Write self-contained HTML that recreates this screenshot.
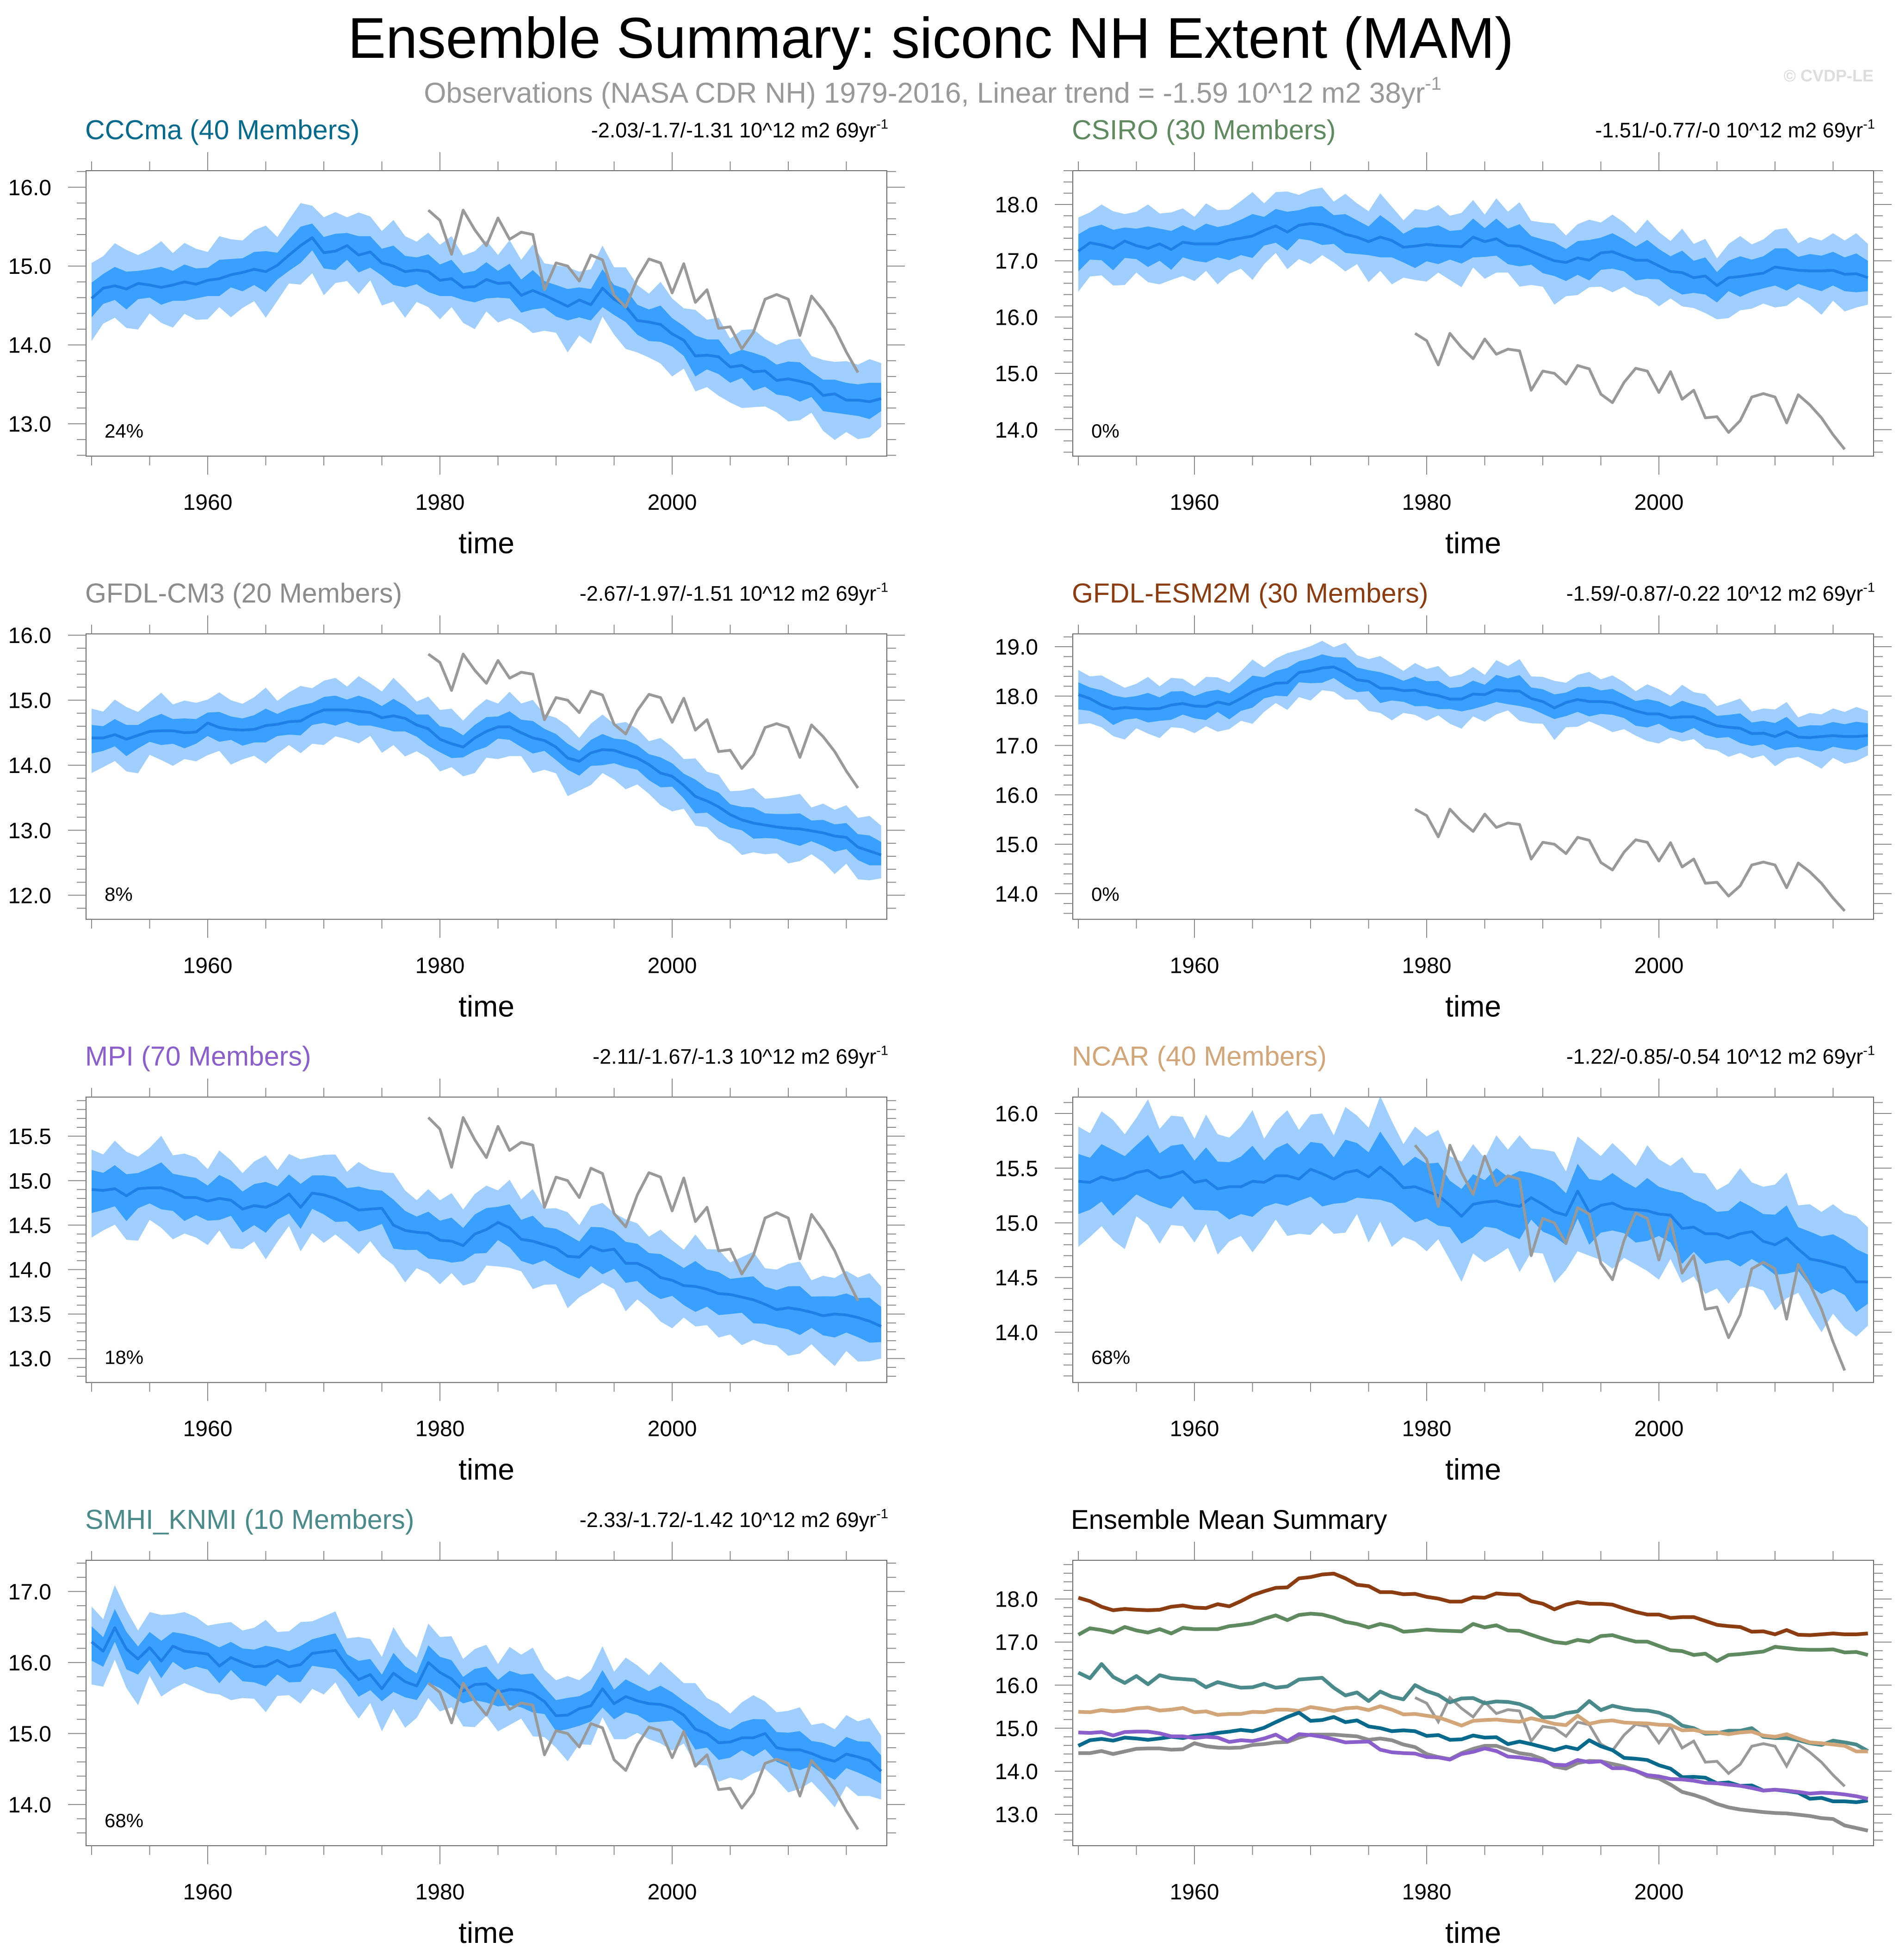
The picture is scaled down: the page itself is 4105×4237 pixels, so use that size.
<!DOCTYPE html>
<html><head><meta charset="utf-8"><title>Ensemble Summary</title>
<style>html,body{margin:0;padding:0;background:#fff}svg{display:block}</style></head>
<body>
<svg id="fig" xmlns="http://www.w3.org/2000/svg" width="4105" height="4237" viewBox="0 0 4105 4237" font-family="Liberation Sans, sans-serif">
<text x="2012" y="125" font-size="124" text-anchor="middle" textLength="2520" lengthAdjust="spacingAndGlyphs">Ensemble Summary: siconc NH Extent (MAM)</text>
<text x="2016" y="222" font-size="62" fill="#999" text-anchor="middle">Observations (NASA CDR NH) 1979-2016, Linear trend = -1.59 10^12 m2 38yr<tspan font-size="40" dy="-28">-1</tspan></text>
<text x="4050" y="176" font-size="36" font-weight="bold" fill="#ddd" text-anchor="end">© CVDP-LE</text>
<g id="panels"></g>
</svg>
<script>
const years = []; for (let y = 1950; y <= 2018; y++) years.push(y);
const obsYears = []; for (let y = 1979; y <= 2016; y++) obsYears.push(y);
const obsValues = [15.71,15.58,15.15,15.71,15.46,15.26,15.61,15.34,15.43,15.40,14.70,15.04,15.00,14.81,15.14,15.08,14.63,14.48,14.84,15.09,15.04,14.66,15.03,14.54,14.70,14.21,14.23,13.95,14.16,14.58,14.64,14.58,14.12,14.62,14.44,14.21,13.91,13.65];
const meanCCCma = [14.59,14.72,14.75,14.71,14.78,14.76,14.73,14.76,14.80,14.77,14.82,14.84,14.89,14.92,14.96,14.93,15.01,15.14,15.26,15.36,15.17,15.19,15.26,15.14,15.18,15.04,15.00,14.93,14.95,14.93,14.82,14.84,14.73,14.74,14.83,14.78,14.79,14.63,14.69,14.63,14.56,14.49,14.57,14.51,14.72,14.58,14.49,14.31,14.29,14.26,14.14,14.06,13.86,13.87,13.85,13.72,13.74,13.66,13.67,13.55,13.57,13.54,13.50,13.36,13.38,13.30,13.30,13.28,13.32];
const meanCSIRO = [17.17,17.32,17.28,17.22,17.35,17.27,17.22,17.30,17.20,17.33,17.30,17.30,17.30,17.37,17.40,17.44,17.54,17.62,17.51,17.63,17.66,17.64,17.57,17.47,17.42,17.34,17.42,17.36,17.24,17.26,17.29,17.27,17.26,17.25,17.42,17.34,17.39,17.27,17.26,17.17,17.08,17.00,16.97,17.05,17.01,17.14,17.16,17.08,17.01,17.01,16.91,16.81,16.79,16.70,16.73,16.56,16.70,16.72,16.75,16.78,16.89,16.86,16.83,16.82,16.82,16.83,16.76,16.77,16.70];
const meanCM3 = [14.42,14.42,14.47,14.40,14.46,14.52,14.53,14.53,14.50,14.51,14.65,14.58,14.55,14.54,14.55,14.61,14.63,14.67,14.68,14.78,14.85,14.85,14.85,14.83,14.81,14.73,14.76,14.72,14.62,14.56,14.40,14.33,14.28,14.42,14.52,14.59,14.59,14.50,14.42,14.38,14.28,14.11,14.06,14.19,14.24,14.23,14.17,14.11,14.01,13.88,13.83,13.69,13.52,13.45,13.36,13.24,13.16,13.11,13.08,13.05,13.03,13.02,12.99,12.96,12.91,12.89,12.74,12.68,12.62];
const meanESM2M = [18.03,17.95,17.82,17.74,17.77,17.75,17.74,17.75,17.82,17.85,17.80,17.79,17.88,17.83,17.95,18.09,18.18,18.26,18.27,18.48,18.51,18.57,18.59,18.48,18.33,18.30,18.16,18.16,18.11,18.12,18.05,18.01,17.94,17.94,18.04,18.03,18.13,18.11,18.10,17.95,17.89,17.76,17.87,17.93,17.89,17.89,17.87,17.78,17.70,17.64,17.64,17.56,17.58,17.58,17.49,17.40,17.37,17.35,17.24,17.25,17.18,17.28,17.17,17.16,17.18,17.20,17.18,17.18,17.20];
const meanMPI = [14.90,14.89,14.91,14.83,14.91,14.92,14.92,14.88,14.81,14.81,14.77,14.80,14.78,14.68,14.72,14.70,14.76,14.85,14.70,14.86,14.84,14.80,14.74,14.67,14.68,14.69,14.50,14.44,14.42,14.41,14.33,14.32,14.27,14.40,14.45,14.53,14.47,14.34,14.32,14.28,14.24,14.15,14.14,14.26,14.21,14.23,14.07,14.07,14.01,13.91,13.88,13.82,13.81,13.78,13.73,13.72,13.69,13.66,13.61,13.55,13.57,13.55,13.52,13.48,13.50,13.49,13.46,13.42,13.36];
const meanNCAR = [15.38,15.37,15.42,15.39,15.41,15.46,15.48,15.41,15.43,15.47,15.37,15.39,15.31,15.33,15.33,15.38,15.37,15.43,15.43,15.40,15.49,15.45,15.40,15.46,15.48,15.42,15.51,15.43,15.32,15.33,15.29,15.25,15.16,15.06,15.17,15.19,15.20,15.17,15.15,15.23,15.17,15.10,15.07,15.29,15.10,15.16,15.18,15.13,15.12,15.11,15.08,15.07,14.95,14.96,14.90,14.90,14.86,14.90,14.92,14.83,14.80,14.86,14.76,14.67,14.65,14.62,14.59,14.46,14.46];
const meanSMHI = [16.29,16.16,16.49,16.19,16.05,16.21,16.02,16.23,16.16,16.14,16.12,15.95,16.07,16.00,15.94,15.95,16.03,15.94,15.97,16.13,16.15,16.17,15.94,15.76,15.83,15.63,15.85,15.73,15.67,16.00,15.86,15.77,15.60,15.69,15.70,15.58,15.62,15.61,15.56,15.45,15.25,15.26,15.35,15.39,15.63,15.42,15.52,15.46,15.42,15.41,15.36,15.26,15.06,15.00,14.87,14.88,14.94,14.94,15.00,14.80,14.77,14.77,14.72,14.65,14.61,14.71,14.67,14.62,14.47];
const spreadJitter = [1.0,0.9,1.2,1.1,0.8,1.0,1.3,0.9,1.1,1.0,0.8,1.2,1.0,0.9,1.1,1.3,0.8,1.0,1.2,0.9,1.0,1.1,0.8,1.2,1.0,0.9,1.3,1.0,0.8,1.1,1.0,1.2,0.9,1.0,1.1,0.8,1.2,1.0,1.3,0.9,1.0,1.1,0.8,1.0,1.2,0.9,1.1,1.0,0.8,1.2,1.0,0.9,1.3,1.0,1.1,0.8,1.0,1.2,0.9,1.0,1.1,1.2,0.8,1.0,0.9,1.1,1.0,1.2,1.0];
const modelNames = ["CCCma","CSIRO","GFDL-CM3","GFDL-ESM2M","MPI","NCAR","SMHI_KNMI"];
const modelMembers = [40,30,20,30,70,40,10];
const modelColors = ["#07698c","#5f8a60","#8c8c8c","#8b3c10","#8a5fcc","#d2a679","#4a8a8a"];
const trendLabels = ["-2.03/-1.7/-1.31","-1.51/-0.77/-0","-2.67/-1.97/-1.51","-1.59/-0.87/-0.22","-2.11/-1.67/-1.3","-1.22/-0.85/-0.54","-2.33/-1.72/-1.42"];
const pctLabels = ["24%","0%","8%","0%","18%","68%","68%"];
const innerSpread = [0.2,0.3,0.2,0.25,0.22,0.25,0.22];
const outerSpread = [0.45,0.6,0.45,0.5,0.45,0.5,0.5];
const yMins = [12.59,13.53,11.63,13.48,12.73,13.54,13.42];
const yMaxs = [16.21,18.6,16.02,19.26,15.94,16.15,17.44];
const yMajor = [1,1,1,1,0.5,0.5,1];
const sumYMin = 12.27, sumYMax = 18.9;
const xTicks = [1960,1980,2000];

const means = [meanCCCma,meanCSIRO,meanCM3,meanESM2M,meanMPI,meanNCAR,meanSMHI];
const NS = "http://www.w3.org/2000/svg";
const root = document.getElementById("panels");
function mk(tag, attrs, parent) {
  const e = document.createElementNS(NS, tag);
  for (const k in attrs) e.setAttribute(k, attrs[k]);
  (parent || root).appendChild(e);
  return e;
}
const BW = 1731, BH = 617;
function panelGeom(idx) {
  const col = idx % 2, row = Math.floor(idx / 2);
  return { x0: col ? 2319 : 186, y0: 369 + row * 1001.3 };
}
function drawAxes(g, x0, y0, ymin, ymax, major, xs, ys) {
  const box = mk("rect", {x:x0,y:y0,width:BW,height:BH,fill:"none",stroke:"#666","stroke-width":2}, g);
  
  
  const minor = major / 5;
  const start = Math.ceil(ymin / minor - 1e-6);
  for (let k = start; k * minor <= ymax + 1e-9; k++) {
    const v = k * minor, y = ys(v);
    const isMaj = Math.abs(v / major - Math.round(v / major)) < 1e-6;
    const L = isMaj ? 39 : 20;
    mk("line", {x1:x0-L,x2:x0,y1:y,y2:y,stroke:"#888","stroke-width":2}, g);
    mk("line", {x1:x0+BW,x2:x0+BW+L,y1:y,y2:y,stroke:"#888","stroke-width":2}, g);
    if (isMaj) {
      const t = mk("text", {x:x0-75,y:y+17,"font-size":48,"text-anchor":"end"}, g);
      t.textContent = v.toFixed(1);
      
      
    }
  }
  for (let yr = 1950; yr <= 2015; yr += 5) {
    const x = xs(yr), isMaj = xTicks.includes(yr), L = isMaj ? 40 : 20;
    mk("line", {x1:x,x2:x,y1:y0+BH,y2:y0+BH+L,stroke:"#888","stroke-width":2}, g);
    mk("line", {x1:x,x2:x,y1:y0-L,y2:y0,stroke:"#888","stroke-width":2}, g);
  }
  xTicks.forEach(yr => {
    const t = mk("text", {x:xs(yr),y:y0+BH+116,"font-size":48,"text-anchor":"middle"}, g);
    t.textContent = yr;
    
    
  });
  const tt = mk("text", {x:x0+BW/2,y:y0+BH+210,"font-size":64,"text-anchor":"middle"}, g);
  tt.textContent = "time";
  
  
}
function linePath(xv, yv, xs, ys) {
  return xv.map((x, i) => (i ? "L" : "M") + xs(x).toFixed(1) + "," + ys(yv[i]).toFixed(1)).join("");
}
function bandPath(m, hw, shift, xs, ys) {
  const n = m.length, J = spreadJitter;
  let d = "";
  for (let i = 0; i < n; i++) d += (i ? "L" : "M") + xs(years[i]).toFixed(1) + "," + ys(m[i] + hw * J[i % J.length]).toFixed(1);
  for (let i = n - 1; i >= 0; i--) d += "L" + xs(years[i]).toFixed(1) + "," + ys(m[i] - hw * J[(i + shift) % J.length]).toFixed(1);
  return d + "Z";
}
modelNames.forEach((name, idx) => {
  const {x0, y0} = panelGeom(idx);
  const g = mk("g", {});
  
  
  const ymin = yMins[idx], ymax = yMaxs[idx];
  const xs = yr => x0 + 12 + (yr - 1950) * 25.1;
  const ys = v => y0 + (ymax - v) / (ymax - ymin) * BH;
  const cid = "clip" + idx;
  const cp = mk("clipPath", {id: cid}, g);
  mk("rect", {x:x0,y:y0,width:BW,height:BH}, cp);
  const pg = mk("g", {"clip-path": "url(#" + cid + ")"}, g);
  const m = means[idx];
  const outer = mk("path", {d: bandPath(m, outerSpread[idx], 11, xs, ys), fill:"#a0cfff"}, pg);
  
  
  const inner = mk("path", {d: bandPath(m, innerSpread[idx], 23, xs, ys), fill:"#39a0ff"}, pg);
  
  
  const ml = mk("path", {d: linePath(years, m, xs, ys), fill:"none", stroke:"#1f7fe6", "stroke-width":6, "stroke-linejoin":"round"}, pg);
  
  
  const ol = mk("path", {d: linePath(obsYears, obsValues, xs, ys), fill:"none", stroke:"#999", "stroke-width":6, "stroke-linejoin":"round"}, pg);
  
  
  drawAxes(g, x0, y0, ymin, ymax, yMajor[idx], xs, ys);
  const ti = mk("text", {x:x0-2,y:y0-68,"font-size":59,fill:modelColors[idx]}, g);
  ti.textContent = name + " (" + modelMembers[idx] + " Members)";
  
  
  const tr = mk("text", {x:x0+BW+3,y:y0-72,"font-size":45,"text-anchor":"end"}, g);
  tr.textContent = trendLabels[idx] + " 10^12 m2 69yr";
  const sup = mk("tspan", {"font-size":29,dy:-19}, tr);
  sup.textContent = "-1";
  
  
  const pc = mk("text", {x:x0+40,y:y0+BH-40,"font-size":42}, g);
  pc.textContent = pctLabels[idx];
  
  
});
(function () {
  const {x0, y0} = panelGeom(7);
  const g = mk("g", {});
  
  
  const xs = yr => x0 + 12 + (yr - 1950) * 25.1;
  const ys = v => y0 + (sumYMax - v) / (sumYMax - sumYMin) * BH;
  const cp = mk("clipPath", {id: "clipS"}, g);
  mk("rect", {x:x0,y:y0,width:BW,height:BH}, cp);
  const pg = mk("g", {"clip-path": "url(#clipS)"}, g);
  const ol = mk("path", {d: linePath(obsYears, obsValues, xs, ys), fill:"none", stroke:"#999", "stroke-width":6}, pg);
  
  
  const order = [3,1,6,5,2,0,4];
  order.forEach(i => {
    const p = mk("path", {d: linePath(years, means[i], xs, ys), fill:"none", stroke:modelColors[i], "stroke-width":8, "stroke-linejoin":"round"}, pg);
    
    
  });
  drawAxes(g, x0, y0, sumYMin, sumYMax, 1, xs, ys);
  const ti = mk("text", {x:x0-4,y:y0-68,"font-size":58}, g);
  ti.textContent = "Ensemble Mean Summary";
  
  
})();
</script>
</body></html>
